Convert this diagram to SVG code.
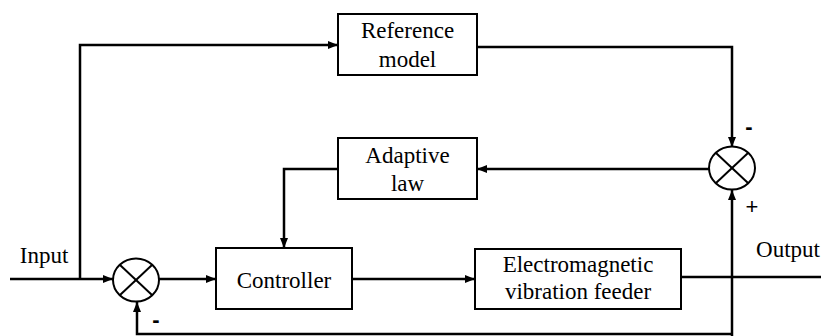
<svg xmlns="http://www.w3.org/2000/svg" width="821" height="336" viewBox="0 0 821 336">
  <defs>
    <marker id="arrow" viewBox="0 0 10 8" refX="10" refY="4" markerWidth="10" markerHeight="8" markerUnits="userSpaceOnUse" orient="auto">
      <path d="M0,0 L10,4 L0,8 Z" fill="#000"/>
    </marker>
    <!-- summing junction: circle with a cross -->
    <g id="sum-shape" fill="#fff" stroke="#000" stroke-width="2">
      <ellipse cx="0" cy="0" rx="23" ry="21.5"/>
      <line x1="-16" y1="-15" x2="16" y2="15"/>
      <line x1="16" y1="-15" x2="-16" y2="15"/>
    </g>
  </defs>
  <rect width="821" height="336" fill="#fff"/>

  <!-- connectors -->
  <g id="connectors" fill="none" stroke="#000" stroke-width="2.5">
    <!-- input into first summing junction -->
    <path d="M10,279 H113" marker-end="url(#arrow)"/>
    <!-- branch of input to reference model -->
    <path d="M80,279 V45 H338" marker-end="url(#arrow)"/>
    <!-- reference model to error junction -->
    <path d="M477,47 H732 V147" marker-end="url(#arrow)"/>
    <!-- error junction to adaptive law -->
    <path d="M709,169 H477" marker-end="url(#arrow)"/>
    <!-- adaptive law to controller -->
    <path d="M338,169 H284 V248" marker-end="url(#arrow)"/>
    <!-- junction to controller -->
    <path d="M159,279 H216" marker-end="url(#arrow)"/>
    <!-- controller to plant -->
    <path d="M352,279 H475" marker-end="url(#arrow)"/>
    <!-- plant output -->
    <path d="M681,277 H821"/>
    <!-- plant output up to error junction -->
    <path d="M732,336 V190" marker-end="url(#arrow)"/>
    <!-- feedback to first junction -->
    <path d="M732,334 H137 V302" marker-end="url(#arrow)"/>
  </g>

  <g id="reference-model">
    <rect x="338" y="14" width="139" height="61" fill="#fff" stroke="#000" stroke-width="2"/>
    <text x="407.5" y="38" font-family="Liberation Serif" font-size="23" text-anchor="middle">Reference</text>
    <text x="407.5" y="67" font-family="Liberation Serif" font-size="23" text-anchor="middle">model</text>
  </g>

  <g id="adaptive-law">
    <rect x="338" y="138" width="139" height="61" fill="#fff" stroke="#000" stroke-width="2"/>
    <text x="407.5" y="163" font-family="Liberation Serif" font-size="23" text-anchor="middle">Adaptive</text>
    <text x="407.5" y="191" font-family="Liberation Serif" font-size="23" text-anchor="middle">law</text>
  </g>

  <g id="controller">
    <rect x="216" y="248" width="136" height="61" fill="#fff" stroke="#000" stroke-width="2"/>
    <text x="284" y="288" font-family="Liberation Serif" font-size="23" text-anchor="middle">Controller</text>
  </g>

  <g id="plant">
    <rect x="475" y="249" width="206" height="60" fill="#fff" stroke="#000" stroke-width="2"/>
    <text x="578" y="272" font-family="Liberation Serif" font-size="23" text-anchor="middle">Electromagnetic</text>
    <text x="578" y="299" font-family="Liberation Serif" font-size="23" text-anchor="middle">vibration feeder</text>
  </g>

  <g id="sum-input">
    <use href="#sum-shape" x="136" y="280"/>
  </g>

  <g id="sum-error">
    <use href="#sum-shape" x="732" y="168"/>
  </g>

  <g id="labels">
    <text x="44" y="263" font-family="Liberation Serif" font-size="23" text-anchor="middle">Input</text>
    <text x="788" y="257" font-family="Liberation Serif" font-size="23" text-anchor="middle">Output</text>
    <text x="749" y="134" font-family="Liberation Sans" font-size="22" font-weight="bold" text-anchor="middle">-</text>
    <text x="752" y="214" font-family="Liberation Sans" font-size="22" text-anchor="middle">+</text>
    <text x="156" y="327" font-family="Liberation Sans" font-size="22" font-weight="bold" text-anchor="middle">-</text>
  </g>
</svg>
